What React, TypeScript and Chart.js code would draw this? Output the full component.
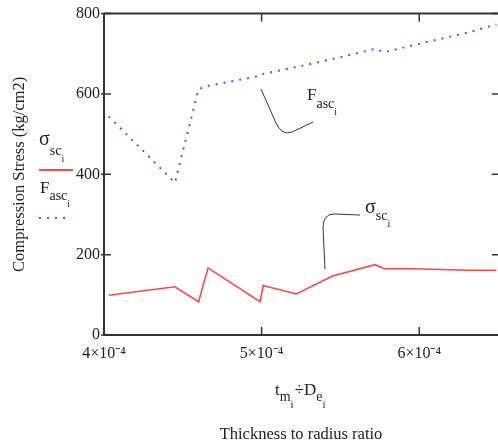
import React, { useEffect, useRef } from "react";
import { Chart, registerables } from "chart.js";

Chart.register(...registerables);

// Data
const ratio = [4.03e-4, 4.45e-4, 4.6e-4, 4.66e-4, 4.99e-4, 5.01e-4, 5.22e-4, 5.45e-4, 5.72e-4, 5.78e-4, 5.96e-4, 6.31e-4, 6.49e-4];
const sigmaSc = [99, 120, 83, 167, 83, 123, 102, 147, 175, 165, 165, 161, 161];
const fAsc = [544, 379, 612, 620, 645, 650, 667, 687, 712, 704, 721, 753, 773];
const xTickValues = [4e-4, 5e-4, 6e-4];
const yTickValues = [0, 200, 400, 600, 800];
const yTitle = "Compression Stress (kg/cm2)";
const xTitle = "Thickness to radius ratio";

const SERIF = "'Liberation Serif', 'Times New Roman', serif";
const INK = "#222";

type Piece = { t: string; size: number; dy: number };

function drawMath(ctx: CanvasRenderingContext2D, x: number, y: number, pieces: Piece[]) {
  let cx = x;
  ctx.textAlign = "left";
  ctx.textBaseline = "alphabetic";
  for (const p of pieces) {
    ctx.font = `${p.size}px ${SERIF}`;
    ctx.fillText(p.t, cx, y + p.dy);
    cx += ctx.measureText(p.t).width;
  }
  return cx;
}

const decorPlugin = {
  id: "decor",
  afterDraw(chart: any) {
    const ctx: CanvasRenderingContext2D = chart.ctx;
    const { left, right, top, bottom } = chart.chartArea;
    const xs = chart.scales.x;
    const ys = chart.scales.y;
    ctx.save();
    // frame top
    ctx.strokeStyle = "#333";
    ctx.lineWidth = 2;
    ctx.beginPath();
    ctx.moveTo(left, top);
    ctx.lineTo(right + 2, top);
    ctx.stroke();
    // inward ticks
    ctx.lineWidth = 1.5;
    ctx.beginPath();
    for (const v of yTickValues) {
      const py = ys.getPixelForValue(v);
      ctx.moveTo(left - 3, py);
      ctx.lineTo(left + 7, py);
      ctx.moveTo(right - 6, py);
      ctx.lineTo(right + 2, py);
    }
    for (const v of xTickValues) {
      const px = xs.getPixelForValue(v);
      ctx.moveTo(px, bottom);
      ctx.lineTo(px, bottom - 8);
      ctx.moveTo(px, top);
      ctx.lineTo(px, top + 8);
    }
    ctx.stroke();

    ctx.fillStyle = INK;
    // legend
    drawMath(ctx, 39, 145, [
      { t: "σ", size: 20, dy: 0 },
      { t: "sc", size: 14, dy: 10 },
      { t: "i", size: 10, dy: 17 },
    ]);
    ctx.strokeStyle = "rgb(255,70,70)";
    ctx.lineWidth = 2;
    ctx.beginPath();
    ctx.moveTo(39, 170);
    ctx.lineTo(73, 170);
    ctx.stroke();
    ctx.fillStyle = INK;
    drawMath(ctx, 40, 193, [
      { t: "F", size: 17, dy: 0 },
      { t: "asc", size: 14, dy: 7 },
      { t: "i", size: 10, dy: 14 },
    ]);
    ctx.strokeStyle = "rgb(80,80,255)";
    ctx.setLineDash([2, 6]);
    ctx.beginPath();
    ctx.moveTo(39, 218);
    ctx.lineTo(70, 218);
    ctx.stroke();
    ctx.setLineDash([]);

    // annotations
    ctx.fillStyle = INK;
    drawMath(ctx, 307, 100, [
      { t: "F", size: 17, dy: 0 },
      { t: "asc", size: 14, dy: 8 },
      { t: "i", size: 10, dy: 15 },
    ]);
    drawMath(ctx, 365, 213, [
      { t: "σ", size: 20, dy: 0 },
      { t: "sc", size: 14, dy: 7 },
      { t: "i", size: 10, dy: 14 },
    ]);
    ctx.strokeStyle = "#333";
    ctx.lineWidth = 1;
    ctx.beginPath();
    ctx.moveTo(261, 89);
    ctx.lineTo(276, 123);
    ctx.quadraticCurveTo(282, 136, 292, 132);
    ctx.lineTo(313, 122);
    ctx.moveTo(360, 215);
    ctx.lineTo(334, 214);
    ctx.quadraticCurveTo(323, 214, 323, 228);
    ctx.lineTo(325, 269);
    ctx.stroke();

    // x-axis expression
    ctx.fillStyle = INK;
    const ex = drawMath(ctx, 275, 395, [
      { t: "t", size: 17, dy: 0 },
      { t: "m", size: 14, dy: 6 },
      { t: "i", size: 11, dy: 13 },
    ]);
    drawMath(ctx, ex + 1, 395, [
      { t: "÷", size: 17, dy: 0 },
      { t: "D", size: 17, dy: 0 },
      { t: "e", size: 14, dy: 6 },
      { t: "i", size: 11, dy: 13 },
    ]);
    ctx.restore();
  },
};

export default function App() {
  const ref = useRef<HTMLCanvasElement | null>(null);
  useEffect(() => {
    if (!ref.current) return;
    const chart = new Chart(ref.current, {
      type: "line",
      data: {
        datasets: [
          {
            label: "σsc",
            data: ratio.map((x, i) => ({ x, y: sigmaSc[i] })),
            borderColor: "rgb(255,70,70)",
            borderWidth: 1.6,
            pointRadius: 0,
            tension: 0,
          },
          {
            label: "Fasc",
            data: ratio.map((x, i) => ({ x, y: fAsc[i] })),
            borderColor: "rgb(80,80,255)",
            borderWidth: 2,
            borderDash: [2, 6],
            pointRadius: 0,
            tension: 0,
          },
        ],
      },
      options: {
        animation: false,
        responsive: false,
        devicePixelRatio: 1,
        layout: { padding: { top: 13, left: 0, right: 0, bottom: 0 } },
        plugins: { legend: { display: false }, tooltip: { enabled: false } },
        scales: {
          x: {
            type: "linear",
            min: 4e-4,
            max: 6.5e-4,
            afterBuildTicks: (s: any) => {
              s.ticks = xTickValues.map((v) => ({ value: v }));
            },
            afterFit: (s: any) => {
              s.height = 111;
            },
            grid: { display: true, drawOnChartArea: false, drawTicks: false },
            border: { display: true, color: "#333", width: 2 },
            ticks: {
              padding: 9,
              maxRotation: 0,
              color: INK,
              font: { family: SERIF, size: 16 },
              callback: (v: any) => `${Math.round(Number(v) * 1e4)}×10⁻⁴`,
            },
            title: {
              display: true,
              text: xTitle,
              color: INK,
              font: { family: SERIF, size: 16.5 },
              padding: { top: 0, bottom: 1 },
            },
          },
          y: {
            type: "linear",
            min: 0,
            max: 800,
            afterBuildTicks: (s: any) => {
              s.ticks = yTickValues.map((v) => ({ value: v }));
            },
            afterFit: (s: any) => {
              s.width = 104;
            },
            grid: { display: true, drawOnChartArea: false, drawTicks: false },
            border: { display: true, color: "#333", width: 2 },
            ticks: {
              padding: 4,
              color: INK,
              font: { family: SERIF, size: 16 },
            },
            title: {
              display: true,
              text: yTitle,
              color: INK,
              font: { family: SERIF, size: 16.5 },
              padding: { top: 10, bottom: 0 },
            },
          },
        },
      },
      plugins: [decorPlugin],
    } as any);
    return () => chart.destroy();
  }, []);
  return (
    <div style={{ position: "absolute", left: 0, top: 0, width: 498, height: 446 }}>
      <canvas ref={ref} width={498} height={446} style={{ display: "block" }} />
    </div>
  );
}
